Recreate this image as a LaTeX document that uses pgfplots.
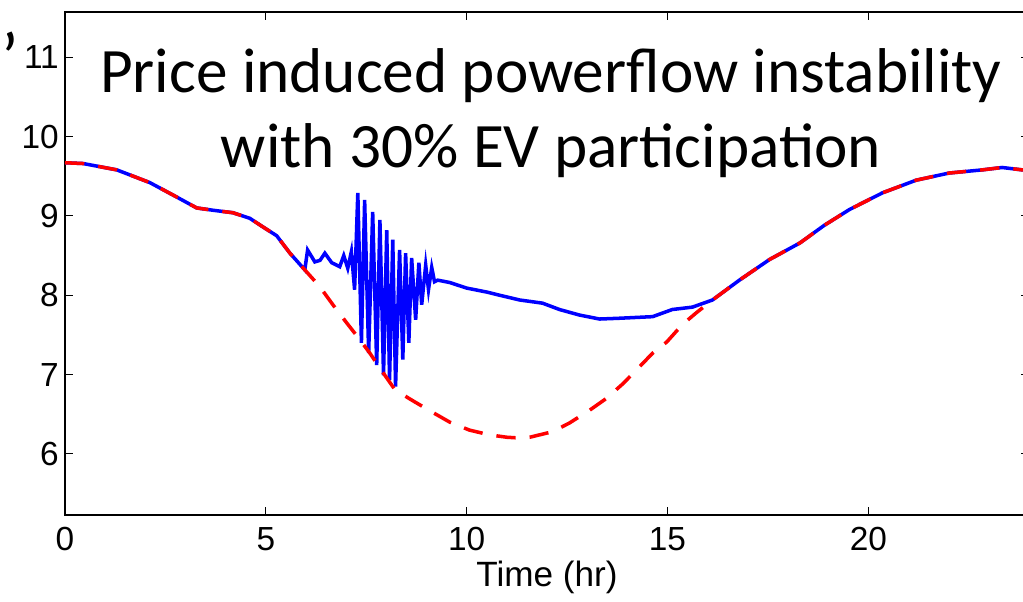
\documentclass[border=0pt]{standalone}
\usepackage{fontspec}
\setmainfont{Liberation Sans}
\newfontfamily\calibri{Carlito}
\usepackage{pgfplots}
\pgfplotsset{compat=1.18}

\begin{document}
\begin{tikzpicture}
\useasboundingbox (0,0) rectangle (20.46cm,12.04cm);
\clip (0,0) rectangle (20.46cm,12.04cm);
\begin{axis}[
  at={(1.3cm,1.74cm)}, anchor=south west,
  scale only axis, width=19.28cm, height=10.06cm,
  xmin=0, xmax=24, ymin=5.23, ymax=11.57,
  xtick={0,5,10,15,20}, ytick={6,7,8,9,10,11},
  tick align=inside, major tick length=0.16cm,
  tick style={black, line width=0.6pt},
  axis line style={line width=0.8pt},
  ticklabel style={font=\fontsize{19}{22}\selectfont},
  /pgf/number format/assume math mode=true,
  xticklabel style={yshift=-0.12cm},
  xlabel={Time (hr)},
  xlabel style={font=\fontsize{20}{24}\selectfont, at={(axis description cs:0.5,0)}, anchor=base, yshift=-1.44cm},
]
% with EV participation
\addplot[blue, line width=2pt] coordinates {
(0,9.67) (0.45,9.66) (1.29,9.58) (2.11,9.42) (2.7,9.26) (3.28,9.10) (3.7,9.07) (4.18,9.04)
(4.6,8.97) (4.9,8.87) (5.27,8.75) (5.6,8.53) (5.97,8.32) (6.04,8.57) (6.22,8.42) (6.35,8.44)
(6.47,8.53) (6.64,8.41) (6.84,8.36) (6.94,8.50) (7.04,8.34) (7.13,8.55) (7.21,8.07)
(7.29,9.29) (7.38,7.40) (7.46,9.20) (7.56,7.27) (7.66,9.05) (7.76,7.12) (7.84,8.95) (7.93,6.99)
(8.01,8.82) (8.08,6.93) (8.16,8.70) (8.23,6.85) (8.33,8.57) (8.41,7.19) (8.48,8.53) (8.56,7.40)
(8.63,8.47) (8.73,7.69) (8.81,8.41) (8.88,7.88) (8.98,8.38) (9.05,8.07) (9.13,8.35) (9.20,8.17)
(9.28,8.19) (9.58,8.16) (10.0,8.09) (10.5,8.04) (10.82,8.00) (11.32,7.94) (11.89,7.90)
(12.31,7.82) (12.81,7.75) (13.31,7.70) (13.81,7.71) (14.63,7.73) (15.12,7.82) (15.62,7.85)
(16.12,7.94) (16.79,8.19) (17.54,8.45) (18.3,8.66) (18.9,8.88) (19.53,9.08) (20.35,9.29)
(21.19,9.45) (22.01,9.54) (22.84,9.58) (23.33,9.61) (23.83,9.58) (24,9.57)
};
% base case
\addplot[red, line width=2pt, dash pattern=on 11pt off 8pt] coordinates {
(0,9.67) (0.45,9.66) (1.29,9.58) (2.11,9.42) (2.7,9.26) (3.28,9.10) (3.7,9.07) (4.18,9.04)
(4.6,8.97) (4.9,8.87) (5.27,8.75) (5.6,8.53) (5.97,8.32) (6.34,8.11) (6.67,7.88) (7.0,7.66)
(7.34,7.44) (7.59,7.27) (7.91,7.03) (8.2,6.82) (8.4,6.75) (8.66,6.67) (9.13,6.53) (9.58,6.40)
(10.07,6.30) (10.57,6.24) (11.0,6.21) (11.32,6.20) (11.57,6.21) (12.14,6.28) (12.56,6.39)
(13.06,6.55) (13.48,6.70) (13.88,6.88) (14.23,7.06) (14.63,7.27) (14.98,7.41) (15.37,7.63)
(15.72,7.78) (16.12,7.94) (16.79,8.19) (17.54,8.45) (18.3,8.66) (18.9,8.88) (19.53,9.08)
(20.35,9.29) (21.19,9.45) (22.01,9.54) (22.84,9.58) (23.33,9.61) (23.83,9.58) (24,9.57)
};
\end{axis}
\node[font=\calibri\fontsize{40}{48}\selectfont, anchor=base west, inner sep=0pt] at (0.02cm,10.4cm) {’};
\node[font=\calibri\fontsize{36}{43}\selectfont, anchor=base, inner sep=0pt] at (11.02cm,10.18cm) {Price induced powerflow instability};
\node[font=\calibri\fontsize{36}{43}\selectfont, anchor=base, inner sep=0pt] at (11.02cm,8.68cm) {with 30\% EV participation};
\end{tikzpicture}
\end{document}
